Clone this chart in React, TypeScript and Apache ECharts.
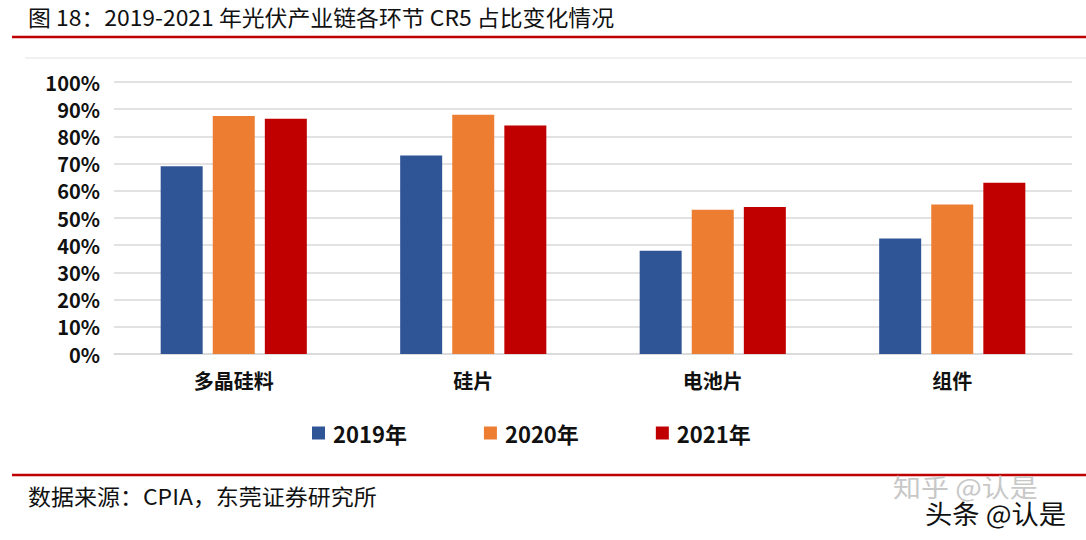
import React, { useEffect, useRef } from "react";
import * as echarts from "echarts";

const categories = ["多晶硅料", "硅片", "电池片", "组件"];
const seriesNames = ["2019年", "2020年", "2021年"];
const values2019 = [69, 73, 38, 42.5];
const values2020 = [87.5, 88, 53, 55];
const values2021 = [86.5, 84, 54, 63];
const colors = ["#2F5597", "#ED7D31", "#C00000"];
const titleText = "图 18：2019-2021 年光伏产业链各环节 CR5 占比变化情况";
const sourceText = "数据来源：CPIA，东莞证券研究所";

export default function App() {
  const ref = useRef<HTMLDivElement>(null);
  useEffect(() => {
    if (!ref.current) return;
    const chart = echarts.init(ref.current, undefined, { renderer: "svg" });
    const font = "'Noto Sans CJK SC', 'Noto Sans', sans-serif";
    const data = [values2019, values2020, values2021];
    chart.setOption({
      animation: false,
      backgroundColor: "#ffffff",
      textStyle: { fontFamily: font },
      grid: { left: 114, right: 14, top: 82, bottom: 186, containLabel: false },
      legend: {
        left: 312,
        top: 422,
        padding: 0,
        icon: "rect",
        itemWidth: 13,
        itemHeight: 13,
        itemGap: 77,
        data: seriesNames,
        textStyle: { fontFamily: font, fontSize: 22, fontWeight: "bold", color: "#111", padding: [0, 0, 0, 3] },
      },
      xAxis: {
        type: "category",
        data: categories,
        axisLine: { show: true, lineStyle: { color: "#d9d9d9", width: 1.5 } },
        axisTick: { show: false },
        axisLabel: { fontFamily: font, fontSize: 20, fontWeight: "bold", color: "#111", margin: 16 },
      },
      yAxis: {
        type: "value",
        min: 0,
        max: 100,
        interval: 10,
        axisLine: { show: false },
        axisTick: { show: false },
        splitLine: { lineStyle: { color: "#d9d9d9", width: 1.5 } },
        axisLabel: {
          formatter: "{value}%",
          fontFamily: font,
          fontSize: 20,
          fontWeight: "bold",
          color: "#111",
          margin: 14,
        },
      },
      series: seriesNames.map((name, i) => ({
        name,
        type: "bar",
        data: data[i],
        barWidth: 42,
        barGap: "24%",
        itemStyle: { color: colors[i] },
      })),
      graphic: [
        {
          type: "text",
          x: 28,
          y: 5,
          scaleX: 1.04,
          style: { text: titleText, fontFamily: font, fontSize: 22, fill: "#111" },
        },
        {
          type: "line",
          shape: { x1: 12, y1: 37, x2: 1086, y2: 37 },
          style: { stroke: "#C00000", lineWidth: 2.5 },
        },
        {
          type: "line",
          shape: { x1: 25, y1: 58, x2: 1086, y2: 58 },
          style: { stroke: "#e3e3e3", lineWidth: 1 },
        },
        {
          type: "line",
          shape: { x1: 12, y1: 475, x2: 1086, y2: 475 },
          style: { stroke: "#C00000", lineWidth: 2.5 },
        },
        {
          type: "text",
          x: 28,
          y: 484,
          scaleX: 1.045,
          style: { text: sourceText, fontFamily: font, fontSize: 22, fill: "#111" },
        },
        {
          type: "text",
          x: 893,
          y: 474,
          scaleX: 1.12,
          style: { text: "知乎 @认是", fontFamily: font, fontSize: 25, fill: "#c8c8c8" },
        },
        {
          type: "text",
          x: 925,
          y: 500,
          scaleX: 1.05,
          style: {
            text: "头条 @认是",
            fontFamily: font,
            fontSize: 26,
            fill: "#111",
            textShadowColor: "#bbb",
            textShadowOffsetX: 2,
            textShadowOffsetY: 1,
            textShadowBlur: 0,
          },
        },
      ],
    });
    return () => chart.dispose();
  }, []);
  return (
    <div
      ref={ref}
      style={{ position: "fixed", left: 0, top: 0, width: 1086, height: 540 }}
    />
  );
}
